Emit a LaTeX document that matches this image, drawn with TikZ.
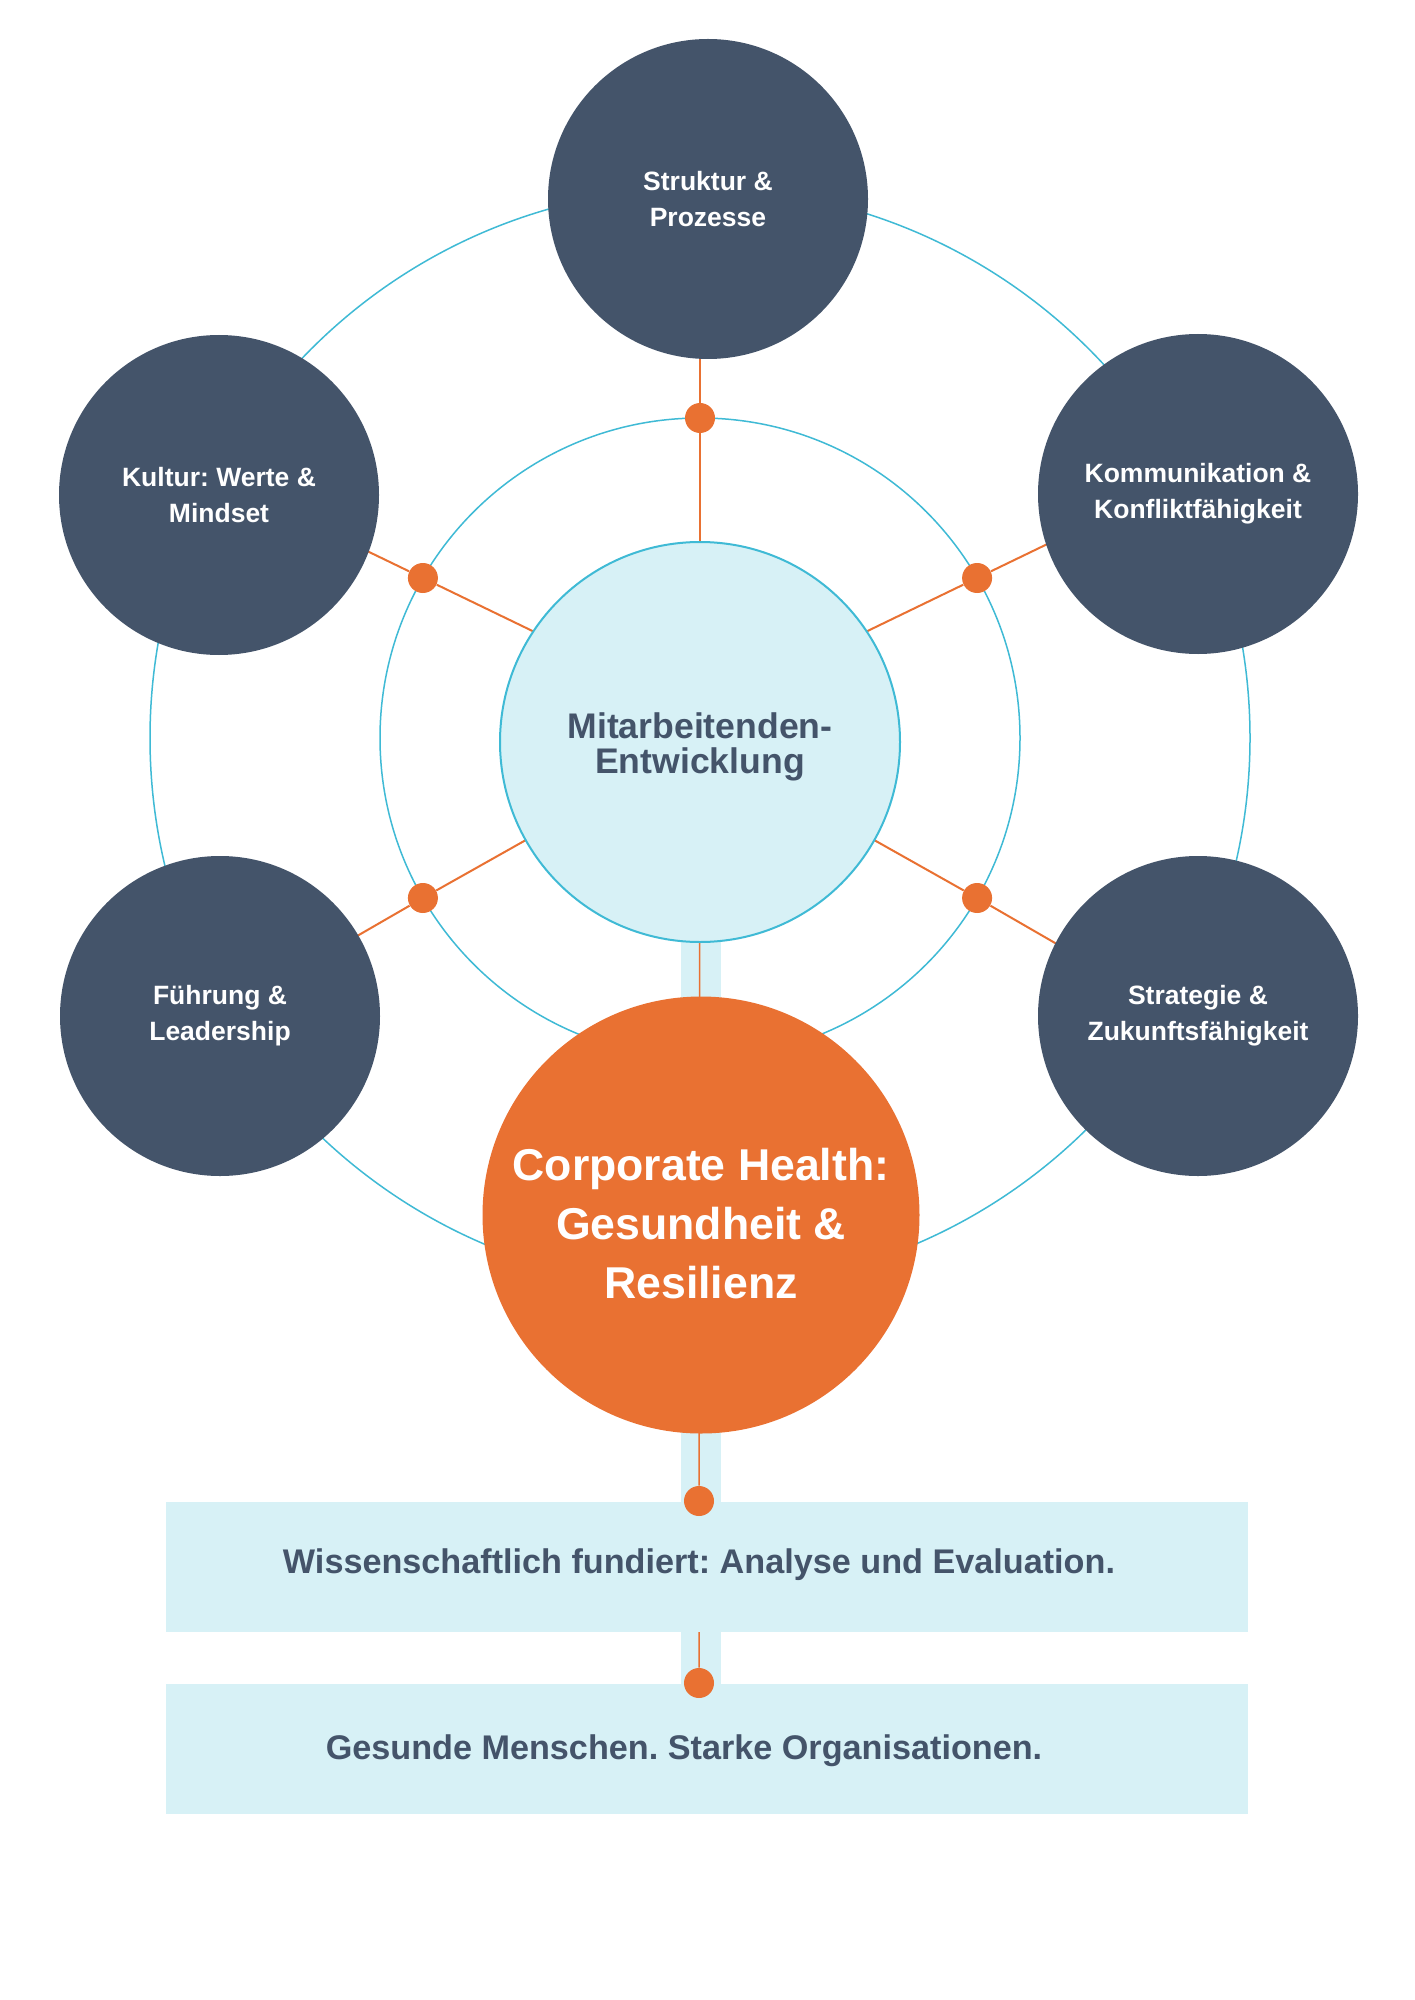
\documentclass[tikz,border=0pt]{standalone}
\usepackage{fontspec}
\setmainfont{Liberation Sans}
\frenchspacing
\definecolor{darkslate}{HTML}{44546A}
\definecolor{paleblue}{HTML}{D7F1F6}
\definecolor{ringcyan}{HTML}{3FBAD5}
\definecolor{accent}{HTML}{E97132}
\pgfdeclarelayer{canvas}
\pgfdeclarelayer{bg}
\pgfsetlayers{canvas,bg,main}
\newcommand{\lowered}[2]{\raisebox{-#1}[\height][\depth]{#2}}
\begin{document}
\begin{tikzpicture}[x=0.5pt,y=-0.5pt,
  pillar/.style={circle, fill=darkslate, minimum size=160pt, inner sep=0pt, align=center, text=white,
    font=\fontsize{13.25}{18}\selectfont\bfseries},
  core/.style={circle, fill=paleblue, draw=ringcyan, line width=1pt, minimum size=200pt, inner sep=0pt,
    align=center, text=darkslate, font=\fontsize{17.8}{17.5}\selectfont\bfseries},
  healthnode/.style={circle, fill=accent, minimum size=218.5pt, inner sep=0pt, align=center, text=white,
    font=\fontsize{22.3}{29.5}\selectfont\bfseries},
  joint/.style={circle, fill=accent, minimum size=15pt, inner sep=0pt},
  infobox/.style={rectangle, fill=paleblue, minimum width=541pt, minimum height=65pt, inner sep=0pt},
  infotext/.style={anchor=base, text=darkslate, inner sep=0pt, font=\fontsize{17.1}{20}\selectfont\bfseries},
  ring/.style={draw=ringcyan, line width=0.75pt},
  spoke/.style={draw=accent, line width=1pt},
  stem/.style={draw=accent, line width=0.75pt}]

\begin{pgfonlayer}{canvas}
\path[use as bounding box, fill=white] (0,0) rectangle (1414,2000);
\end{pgfonlayer}

% main nodes
\node[pillar] (struktur) at (708,199) {Struktur \&\\Prozesse};
\node[pillar] (kultur) at (219,495) {Kultur: Werte \&\\Mindset};
\node[pillar] (komm) at (1198,494) {Kommunikation \&\\Konfliktfähigkeit};
\node[pillar] (fuehrung) at (220,1016) {Führung \&\\Leadership};
\node[pillar] (strategie) at (1198,1016) {Strategie \&\\Zukunftsfähigkeit};

\node[core] (mid) at (700,742) {\lowered{2.5pt}{\parbox{190pt}{\centering Mitarbeitenden-\\Entwicklung}}};
\node[healthnode] (health) at (701,1215) {\lowered{4.5pt}{\parbox{195pt}{\centering Corporate Health:\\Gesundheit \&\\Resilienz}}};

\node[infobox] (box1) at (707,1567) {};
\node[infobox] (box2) at (707,1749) {};
\node[infotext] (t1) at (699,1573) {Wissenschaftlich fundiert: Analyse und Evaluation.};
\node[infotext] (t2) at (684,1759) {Gesunde Menschen. Starke Organisationen.};

% joints on the middle ring
\node[joint] (dT) at (700,418) {};
\node[joint] (dK) at (422.9,578) {};
\node[joint] (dM) at (977.1,578) {};
\node[joint] (dF) at (422.9,898) {};
\node[joint] (dS) at (977.1,898) {};
\node[joint] (d1) at (699,1501) {};
\node[joint] (d2) at (699,1683) {};

% spoke ends hidden under the circles
\coordinate (eT) at (700,300);
\coordinate (eK) at (336,536);
\coordinate (eM) at (1064,536);
\coordinate (eF) at (336.3,948);
\coordinate (eS) at (1063.7,948);
\coordinate (ctr) at (700,738);
\coordinate (ctrU) at (700,712);

\begin{pgfonlayer}{bg}
  % light band behind the vertical stem
  \fill[paleblue] (681,742) rectangle (721,1684);
  % rings
  \draw[ring] (ctr) circle[radius=275pt];
  \draw[ring] (ctr) circle[radius=160pt];
  % spokes
  \draw[spoke] (mid.center) -- (dT) -- (eT);
  \draw[spoke] (ctrU) -- (dK) -- (eK);
  \draw[spoke] (ctrU) -- (dM) -- (eM);
  \draw[spoke] (mid.center) -- (dF) -- (eF);
  \draw[spoke] (mid.center) -- (dS) -- (eS);
  % stem
  \draw[stem] (mid.center) -- (d1) -- (d2);
\end{pgfonlayer}
\end{tikzpicture}
\end{document}
